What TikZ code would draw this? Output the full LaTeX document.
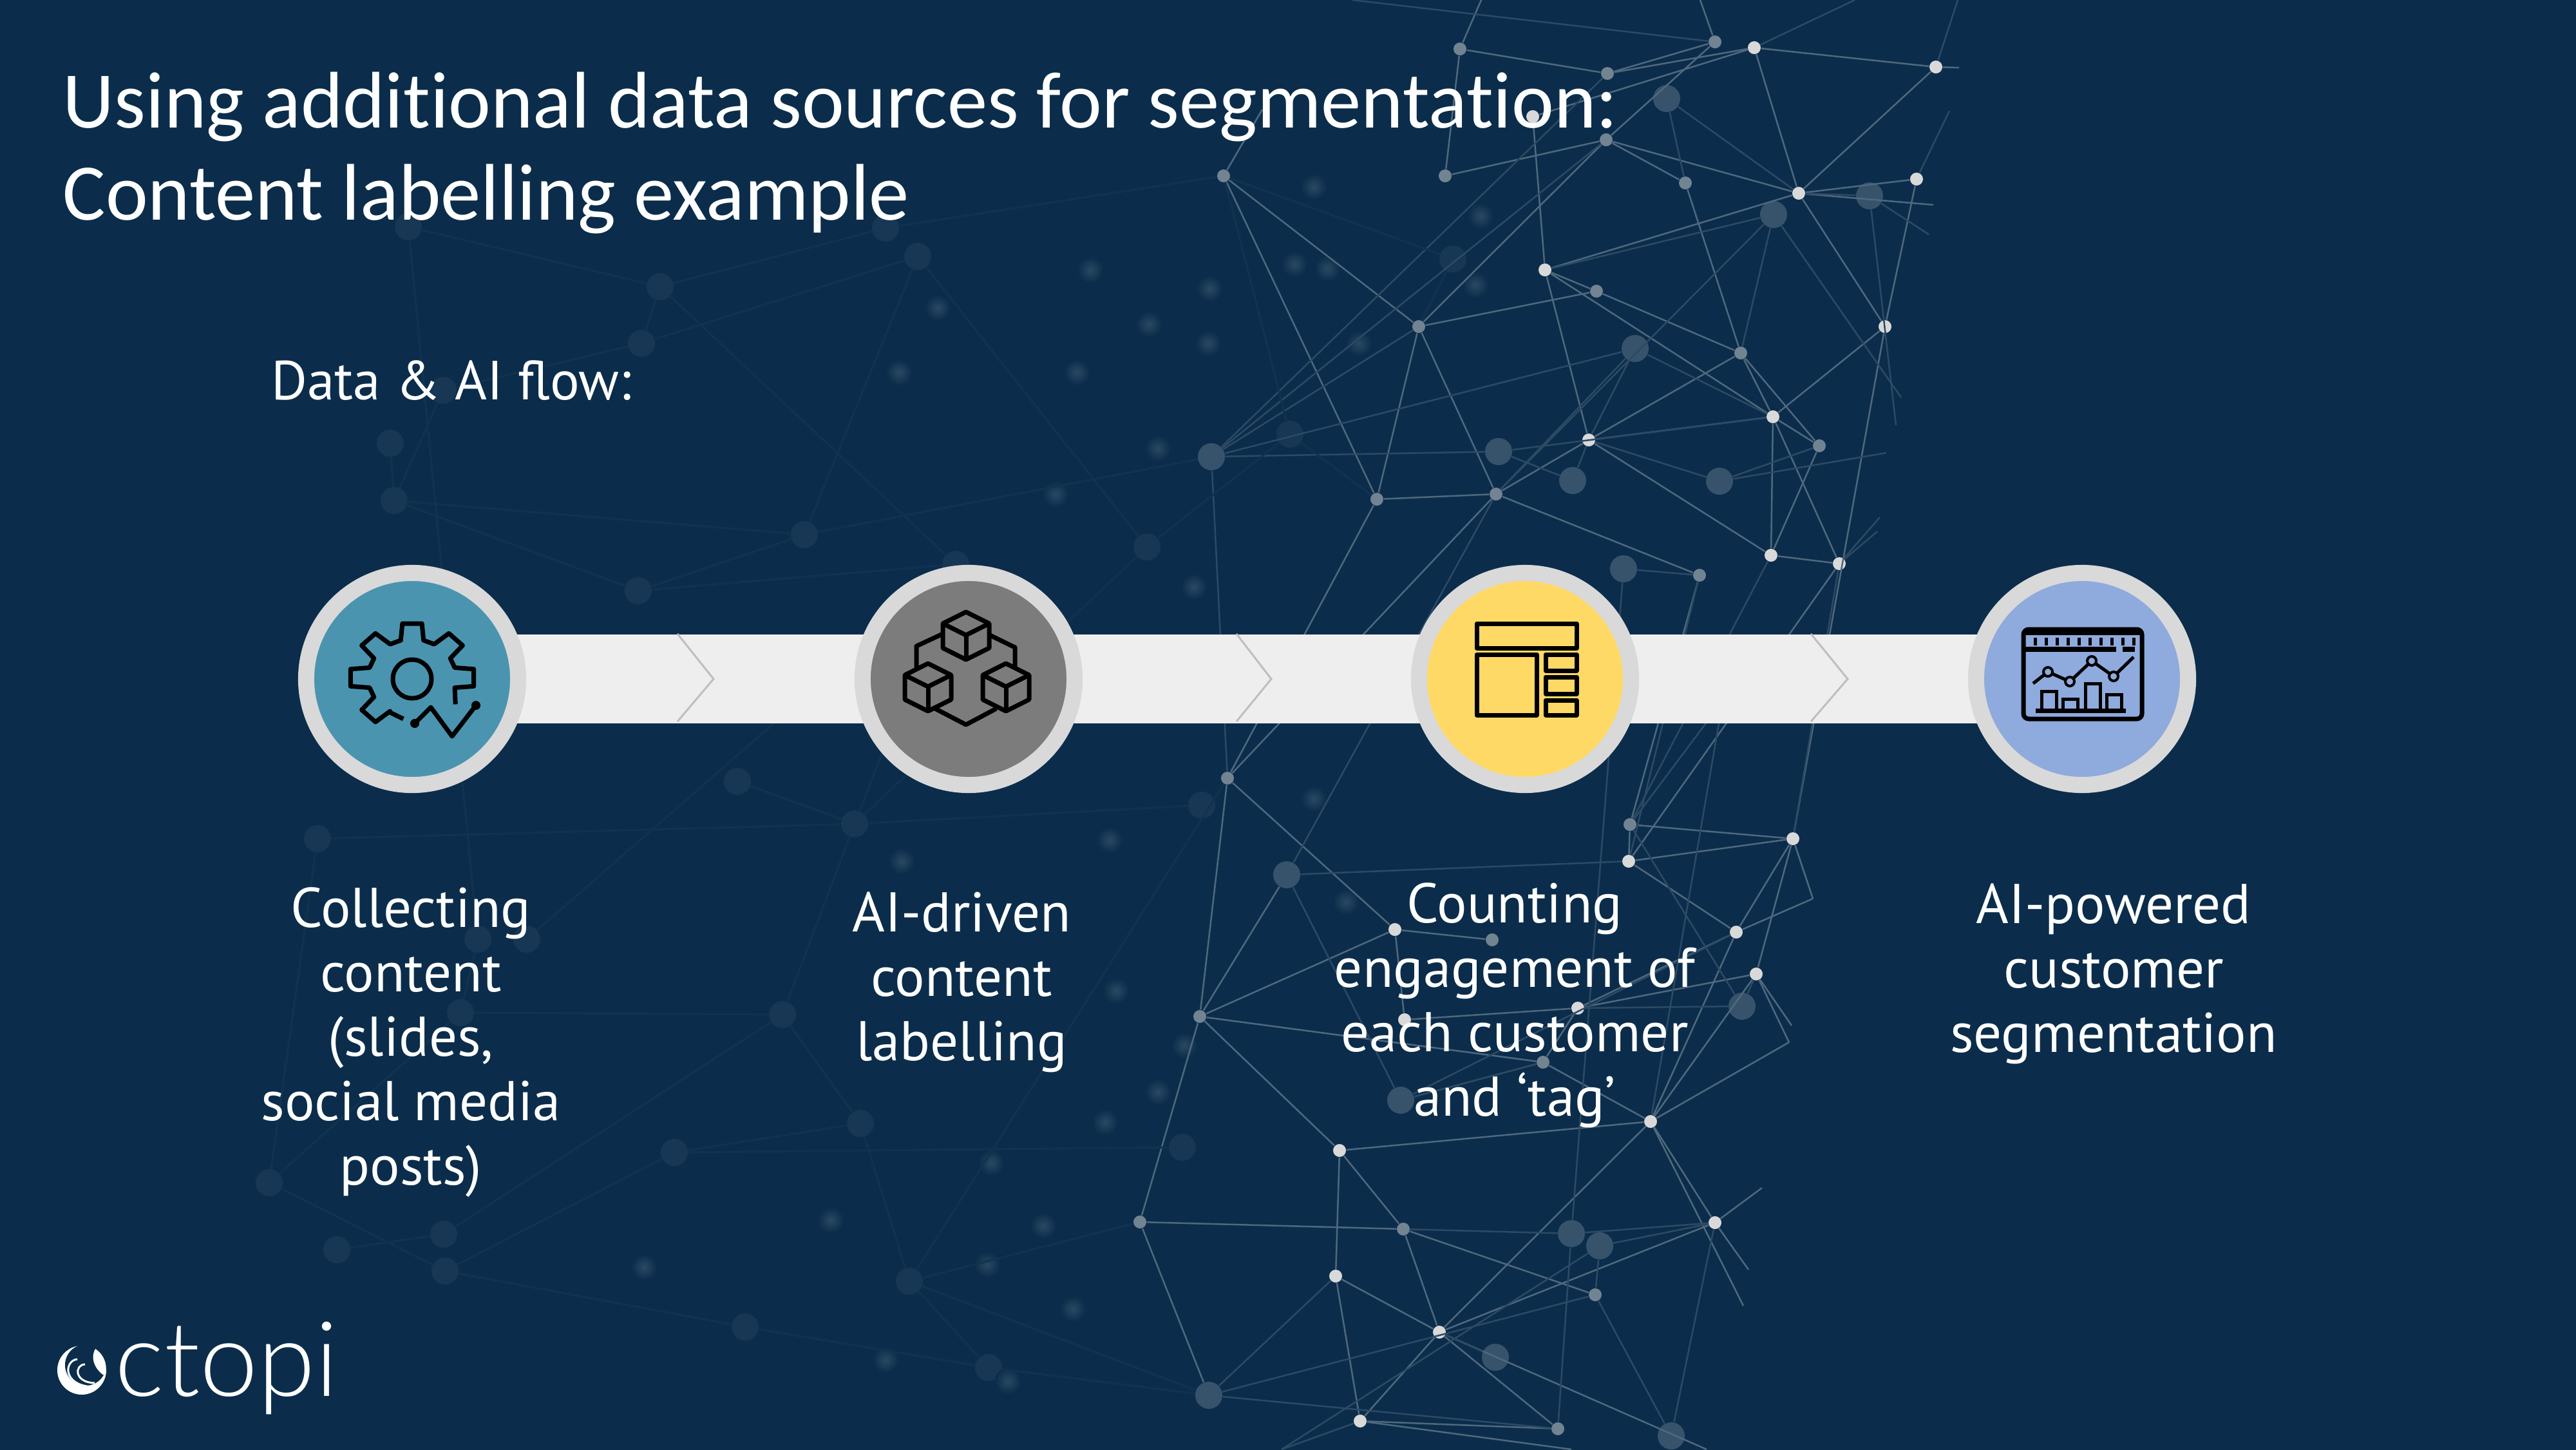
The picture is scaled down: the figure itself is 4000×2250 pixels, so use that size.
\documentclass[tikz,border=0pt]{standalone}
\usepackage{fontspec}
\setmainfont[Ligatures=NoCommon]{Carlito}
\newfontfamily\labelfont{PT Sans}
\newfontfamily\logofont{Lato Light}
\definecolor{slide}{HTML}{0B2D4B}
\definecolor{ringgrey}{HTML}{D9D9D9}
\definecolor{bandgrey}{HTML}{EEEEEE}
\definecolor{chevgrey}{HTML}{BFBFBF}
\definecolor{teal}{HTML}{4A94B0}
\definecolor{stone}{HTML}{7C7C7C}
\definecolor{butter}{HTML}{FFD966}
\definecolor{sky}{HTML}{8FAADC}
\pgfdeclarelayer{backdrop}
\pgfdeclarelayer{bandlayer}
\pgfsetlayers{backdrop,bandlayer,main}
\tikzset{
  hub/.style={circle, fill=ringgrey, inner sep=0pt, minimum size=0.2cm},
  midhub/.style={circle, fill=ringgrey!50!slide, inner sep=0pt, minimum size=0.2cm},
  blob/.style={circle, fill=white!18!slide, inner sep=0pt, minimum size=0.42cm},
  faintblob/.style={circle, fill=white!5!slide, inner sep=0pt, minimum size=0.42cm},
  glow/.style={circle, inner color=white!13!slide, outer color=slide, inner sep=0pt, minimum size=0.4cm},
  strongedge/.style={draw=white!28!slide, line width=0.025cm},
  softedge/.style={draw=white!14!slide, line width=0.025cm},
  faintedge/.style={draw=white!3!slide, line width=0.03cm},
  station/.style={circle, draw=ringgrey, line width=0.25cm, inner sep=0pt, minimum size=3.29cm},
  chevron/.style={draw=chevgrey, line width=0.03cm},
  iconline/.style={draw=black, line width=0.07cm, line join=round},
  caption/.style={white, align=center, font=\labelfont\fontsize{24.7}{28.4}\selectfont, anchor=base}
}
\begin{document}
\begin{tikzpicture}[x=0.01cm, y=-0.01cm]

	% Slide and the network behind the flow
	\useasboundingbox (0,0) rectangle (4000,2250);
	\begin{pgfonlayer}{backdrop}
	\fill [slide] (-10,-10) rectangle (4010,2260);

	\foreach \n/\px/\py in {e1/3042/105, e3/3027/172, e4/3002/318, e5/2995/364, e6/2952/617, e7/2944/660,
			e8/2929/703, e9/2919/803, e10/2915/825, e11/3048/57, e12/2815/1395, e13/2782/1592, e14/2778/1618,
			e15/2769/1662, e16/2715/1971, e17/2707/2027, e18/2736/1844, e19/2640/0, e20/2300/0, e21/2880/0,
			e22/1960/170, e23/2440/2250, e24/1990/2250, e25/2650/2250, e26/2100/0, e27/3040/0}
		\coordinate (\n) at (\px,\py);
	\foreach \n/\px/\py in {f1/1025/445, f2/996/533, f3/1425/398, f4/1375/354, f5/606/688, f6/612/777,
			f7/688/606, f8/1249/830, f9/1781/849, f10/991/917, f11/1484/876, f12/634/352, f13/493/1302,
			f14/1327/1279, f15/1145/1213, f16/1215/1575, f17/1336/1744, f18/1047/1789, f19/418/1836,
			f20/523/1940, f21/689/1916, f22/1157/2060, f23/1535/2123, f24/715/1572, f25/742/1458,
			f26/818/1458, f27/1866/1250, f28/1836/1781, f29/2256/402, f30/2003/674, b19/1412/1989, b20/691/1973}
		\node [faintblob] (\n) at (\px,\py) {};
	\foreach \n/\px/\py in {b1/2588/153, b2/2754/333, b3/2903/304, b4/2539/541, b5/1881/709, b6/2327/701,
			b7/2442/746, b8/2670/747, b9/2521/883, b10/2675/1088, b11/1998/1358, b12/2705/1562, b13/2175/1708,
			b14/2440/1915, b15/2484/1934, b16/1877/2166, b17/2595/2229, b18/2322/2107}
		\node [blob] (\n) at (\px,\py) {};
	\foreach \n/\px/\py in {g1/1693/419, g2/1878/448, g3/1456/478, g4/1784/503, g5/1876/533, g6/1396/578,
			g7/1672/578, g8/1798/696, g9/1639/767, g10/1854/911, g11/1723/1304, g12/1400/1337, g13/1733/1538,
			g14/1839/1623, g15/1798/1695, g16/1716/1742, g17/1539/1805, g18/1290/1894, g19/1000/1967,
			g20/1533/1963, g21/1620/1903, g22/1666/2032, g23/1565/2144, g24/1375/2111, g25/2040/290,
			g26/2299/335, g27/2010/410, g28/2061/417, g29/2291/442, g30/2110/533, g31/2040/1240, g32/2090/1400}
		\node [glow] (\n) at (\px,\py) {};
	\foreach \n/\px/\py in {m1/2267/76, m2/2496/114, m3/2663/65, m4/2494/217, m5/1900/273, m6/2244/273,
			m7/2617/284, m8/2479/452, m9/2203/507, m10/2703/548, m11/2825/692, m12/2138/775, m13/2323/767,
			m14/2639/893, m15/1906/1208, m16/2531/1280, m17/2317/1459, m18/1863/1578, m19/2396/1649,
			m20/1770/1897, m21/2179/1908, m22/2477/2010, m23/2419/2218}
		\node [midhub] (\n) at (\px,\py) {};
	\foreach \n/\px/\py in {h1/2724/74, h2/3006/104, h3/2380/181, h4/2793/300, h5/2976/278, h6/2399/419,
			h7/2927/507, h8/2753/647, h9/2467/683, h10/2750/862, h11/2856/875, h12/2529/1337, h13/2784/1302,
			h14/2696/1447, h15/2727/1512, h16/2166/1443, h17/2450/1565, h18/2181/1583, h19/2563/1741,
			h20/2080/1786, h21/2663/1898, h22/2074/1981, h23/2235/2068, h24/2112/2206}
		\node [hub] (\n) at (\px,\py) {};

	\foreach \s/\t in {m1/m2, m2/m3, m2/h1, h1/h3, m3/m4, m3/e19, h1/h2, h1/h4, h2/h4, h2/e1, h4/h5, h4/m4, h4/e4,
			h4/h6, h6/h8, h6/m8, h6/h9, m8/m10, m8/m9, m10/h9, h9/h8, h9/m13, h9/h10, h8/h7, h8/h10, h8/h11,
			h7/h4, h7/h5, m5/m9, m4/m6, m4/m7, m7/m10, m9/m13, m9/m12, m12/m13, m13/m14, h10/h11, m9/m4, h3/h6,
			m1/m6, m1/e20, m5/e22, m10/h8, m10/m11, m11/h8, m11/h10, m12/m15, m13/m15, m14/m16, h11/h12,
			h7/h13, m15/h16, m15/m18, m16/h13, h12/h13, h12/h14, h12/m16, h13/h14, h13/h15,
			h14/h17, h15/h17, h17/h18, h17/m19, h16/m17, h16/h18, m18/h16, m18/h20, m18/m19, h20/h19, h20/m21,
			h20/h22, h19/h21, h19/h23, h19/m19, h19/h14, h19/h15, h21/h23, h21/e16, m20/m18, m20/m21, m20/b16,
			m21/m22, m21/h23, h22/h23, h22/h24, h23/m23, h23/h24, m23/h24, b11/m18, h14/e12, h15/e13, h15/e14,
			h19/e14, h21/e18, h13/e12, h24/e23, h23/e25, h19/e17, m5/m12}
		\draw [strongedge] (\s) -- (\t);
	\foreach \s/\t in {b5/b4, b5/b6, b5/m2, b5/m4, b5/m9, b5/m15, b6/b7, b6/h8, b4/h8, b4/h9, b4/m13, b2/h6, b2/m13,
			b2/m10, b1/h4, b1/m7, b3/h4, b3/e5, b7/h9, b8/e8, b8/h9, b8/m11, b9/m14, b9/b14, b10/h19, b10/m16,
			b11/b13, b11/m13, b13/h14, b13/m19, b12/h15, b12/h17, b14/h21, b14/m21, b15/h21, b15/m22, b16/m22,
			b16/m23, b16/h22, b17/m22, b17/h21, b18/h23, b2/e6, b3/e7, h5/e3, h11/e9, h11/e10, h2/e27, h1/e21,
			h12/b11, m16/b12, m19/b13, b14/m23, b15/e24, h24/e24, m3/e26, m14/h12, h10/m16, h11/h13}
		\draw [softedge] (\s) -- (\t);
	\foreach \s/\t in {f4/f1, f1/f12, f1/f2, f2/f7, f5/f6, f6/f7, f6/f8, f8/b5, f8/f10, f6/f10, f10/f11, f3/f2, f3/f9,
			f14/f13, f15/f14, f16/f24, f17/f18, f18/b20, f19/b20, f20/f21, b20/f22, f22/f23, f23/b19, b19/m20,
			b19/m15, b19/b16, f25/f24, f26/f11, f14/f9, f21/f16, f9/f30, f30/m5, f29/m5, f1/f11, f16/f17, f14/f16,
			f13/f19, f24/f19, b19/f17, f27/f14, f28/f18, f11/f14, f12/f25, f3/f8, f23/b16, f4/m5, f29/m9, f30/m12}
		\draw [faintedge] (\s) -- (\t);
	\end{pgfonlayer}

	% Title
	\node [white, anchor=base west, inner sep=0pt, font=\fontsize{35.45}{36}\selectfont] (title1) at (97,198)
		{Using additional data sources for segmentation:};
	\node [white, anchor=base west, inner sep=0pt, font=\fontsize{35.45}{36}\selectfont] (title2) at (97,341)
		{Content labelling example};
	\node [white, anchor=base west, inner sep=0pt, font=\labelfont\fontsize{24.3}{25}\selectfont] (flowhead) at (421,620)
		{Data \& AI flow:};

	% Stations
	\node [station, fill=teal] (collect) at (640,1054) {};
	\node [station, fill=stone] (tagger) at (1504,1054) {};
	\node [station, fill=butter] (counter) at (2368,1054) {};
	\node [station, fill=sky] (segment) at (3233,1054) {};

	% Band under the stations
	\begin{pgfonlayer}{bandlayer}
	\draw [draw=bandgrey, line width=1.37cm] (collect.center) -- (segment.center);
	\end{pgfonlayer}

	% Chevrons on the band
	\foreach \n/\bx/\tx in {c1/1052/1108, c2/1920/1974, c3/2812/2869} {
		\coordinate (\n top) at (\bx,984);
		\coordinate (\n tip) at (\tx,1054);
		\coordinate (\n low) at (\bx,1120);
		\draw [chevron] (\n top) -- (\n tip) -- (\n low);
	}

	% Gear icon
	\begin{scope}[shift={(640,1052)}, xscale=1.14]
		\draw [iconline] (35:72) \foreach \a in {0,-45,-90,-135,-180,-225}
			{ -- ({\a+15}:60) -- ({\a+9}:85) -- ({\a-9}:85) -- ({\a-15}:60) } -- (-30,54) -- (-12,64);
	\end{scope}
	\draw [iconline] (640,1054) circle (30);
	\draw [iconline] (644,1123) -- (669,1098) -- (702,1143) -- (739,1095);
	\fill (644,1123) circle (7);
	\fill (739,1095) circle (7);

	% Cubes icon
	\foreach \cx/\cy in {1500/950, 1441/1030, 1562/1030} {
		\draw [iconline] (\cx,\cy) -- ++(36,18) -- ++(0,38) -- ++(-36,18) -- ++(-36,-18) -- ++(0,-38) -- cycle;
		\draw [iconline] (\cx-36,\cy+18) -- (\cx,\cy+36) -- (\cx+36,\cy+18);
		\draw [iconline] (\cx,\cy+36) -- (\cx,\cy+74);
	}
	\draw [iconline] (1466,983) -- (1423,1003) -- (1423,1036);
	\draw [iconline] (1535,985) -- (1576,1005) -- (1576,1036);
	\draw [iconline] (1452,1100) -- (1500,1125) -- (1547,1100);

	% Layout icon
	\foreach \xa/\ya/\xb/\yb in {2293/968/2448/1006, 2293/1016/2386/1110, 2400/1016/2448/1041,
			2400/1051/2448/1077, 2400/1087/2448/1110}
		\draw [iconline] (\xa,\ya) rectangle (\xb,\yb);

	% Dashboard icon
	\draw [iconline, rounded corners=0.08cm] (3142,977) rectangle (3326,1116);
	\fill (3142,977) rectangle (3326,986);
	\foreach \tickx in {3160,3177,...,3313}
		\draw [line width=0.05cm] (\tickx,990) -- (\tickx,1002);
	\fill (3145,1004) rectangle (3286,1012);
	\fill (3296,1004) rectangle (3315,1012);
	\draw [line width=0.05cm, line join=round] (3157,1061) -- (3180,1043) -- (3214,1058) -- (3248,1026) -- (3282,1050) -- (3313,1020);
	\foreach \dotx/\doty in {3180/1043, 3214/1058, 3248/1026, 3282/1050}
		\draw [line width=0.04cm, fill=sky] (\dotx,\doty) circle (7);
	\foreach \xa/\ya/\xb in {3170/1073/3193, 3203/1085/3226, 3238/1061/3261, 3271/1078/3294}
		\draw [line width=0.05cm] (\xa,1103) rectangle (\xb,\ya);
	\draw [iconline] (3161,1103) -- (3301,1103);

	% Captions
	\node [caption] (lab1) at (638,1839) {Collecting\\content\\(slides,\\social media\\posts)};
	\node [caption] (lab2) at (1493,1646) {AI-driven\\content\\labelling};
	\node [caption] (lab3) at (2352,1732) {Counting\\engagement of\\each customer\\and ‘tag’};
	\node [caption] (lab4) at (3282,1633) {AI-powered\\customer\\segmentation};

	% Logo
	\fill [white] (127,2127) circle (38);
	\fill [slide] (133,2119) circle (32);
	\fill [slide] (133,2085) -- (152,2085) -- (160,2104) -- (140,2100) -- cycle;
	\fill [white] (148,2094) .. controls (162,2103) and (168,2120) .. (163,2136) .. controls (152,2130) and (138,2112) .. cycle;
	\draw [white, line width=0.03cm] (120,2110) .. controls (100,2112) and (96,2150) .. (143,2153);
	\draw [white, line width=0.03cm] (132,2118) .. controls (116,2118) and (114,2146) .. (147,2147);
	\node [white, anchor=base west, inner sep=0pt, font=\logofont\fontsize{46}{46}\selectfont] (logo) at (178,2167) {ctopi};

\end{tikzpicture}
\end{document}
